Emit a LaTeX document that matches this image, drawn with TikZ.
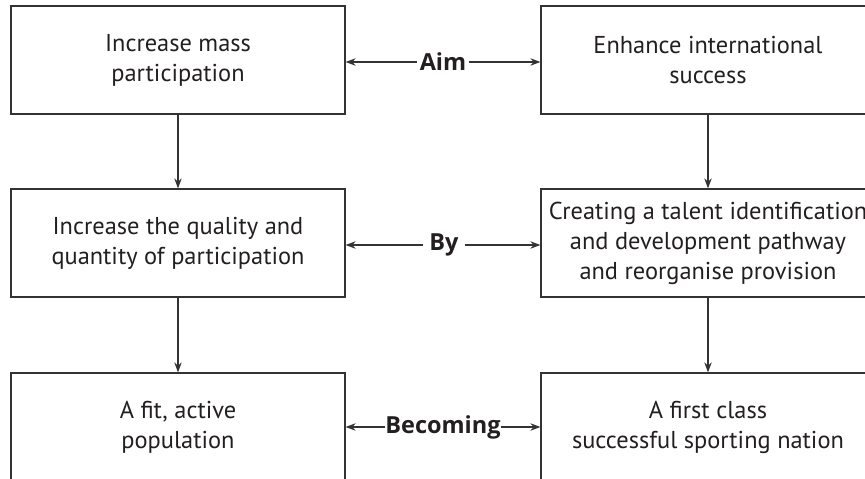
\documentclass[tikz,border=0pt]{standalone}
\usepackage{fontspec}
\setmainfont{PT Sans}
\newfontfamily\labfont{Open Sans}
\usetikzlibrary{arrows.meta}
\definecolor{ink}{HTML}{231F20}
\definecolor{edge}{HTML}{333333}
\tikzset{
  box/.style={draw=edge, line width=1.3pt, minimum width=334pt, minimum height=108pt,
    align=center, text=ink, font=\fontsize{24.4}{30}\selectfont, inner sep=0pt},
  lab/.style={text=ink, font=\labfont\fontsize{23.5}{26}\selectfont\bfseries, inner sep=3pt},
  conn/.style={draw=edge, line width=1.1pt, -{Stealth[length=10pt,width=7.5pt]}}
}
\begin{document}
\begin{tikzpicture}[x=1pt,y=-1pt]
\useasboundingbox (0,0) rectangle (865,479);
\node[box] (L1) at (178,60) {Increase mass\\participation};
\node[box] (R1) at (708,60) {Enhance international\\success};
\node[box] (L2) at (178,243) {Increase the quality and\\quantity of participation};
\node[box] (R2) at (708,243) {Creating a talent identification\\and development pathway\\and reorganise provision};
\node[box] (L3) at (178,427) {A fit, active\\population};
\node[box] (R3) at (708,427) {A first class\\successful sporting nation};
\node[lab] (aim) at (443,62) {Aim};
\node[lab, inner xsep=6pt] (by) at (444,245) {By};
\node[lab, inner xsep=0pt] (bec) at (443,427) {Becoming};
\draw[conn] (aim.west) -- (aim.west -| L1.east);
\draw[conn] (aim.east) -- (aim.east -| R1.west);
\draw[conn] (by.west) -- (by.west -| L2.east);
\draw[conn] (by.east) -- (by.east -| R2.west);
\draw[conn] (bec.west) -- (bec.west -| L3.east);
\draw[conn] (bec.east) -- (bec.east -| R3.west);
\draw[conn] (L1) -- (L2);
\draw[conn] (L2) -- (L3);
\draw[conn] (R1) -- (R2);
\draw[conn] (R2) -- (R3);
\end{tikzpicture}
\end{document}
